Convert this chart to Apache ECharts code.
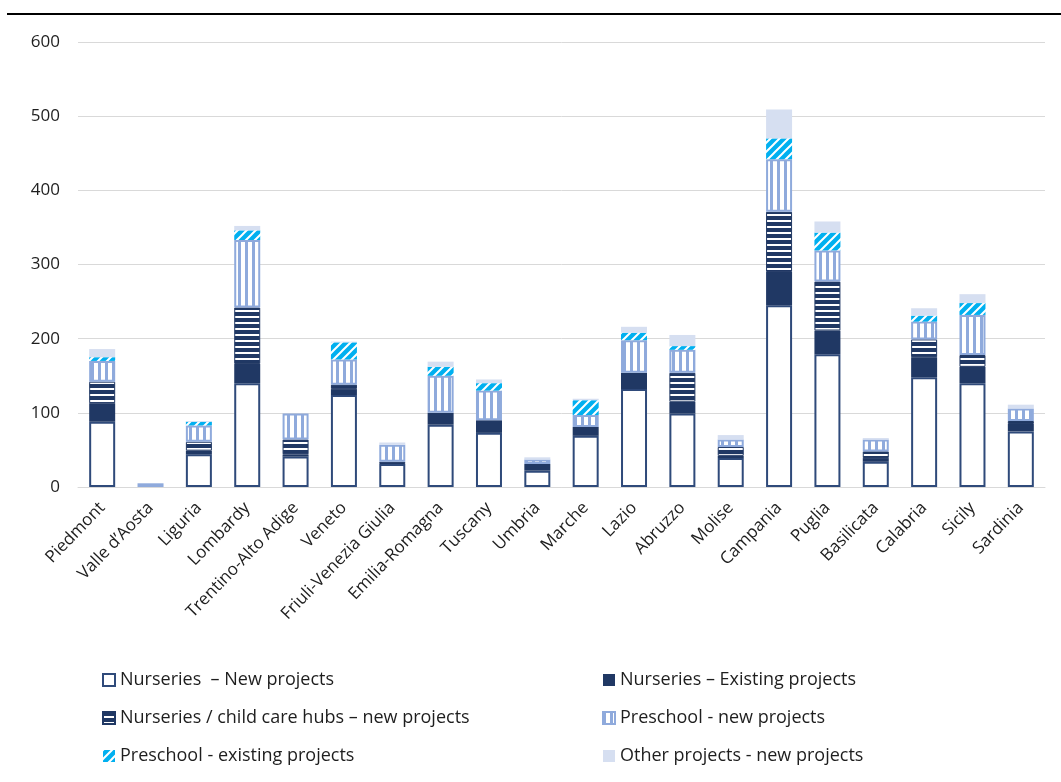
<!DOCTYPE html>
<html>
<head>
<meta charset="utf-8">
<script src="https://cdn.jsdelivr.net/npm/echarts@6/dist/echarts.min.js"></script>
<style>
  html, body { margin: 0; padding: 0; background: #fff; }
  #chartmain { width: 1061px; height: 782px; }
</style>
</head>
<body>
<div id="chartmain"></div>
<script>
// regions on the x axis
var categories = ['Piedmont', 'Valle d\u2019Aosta', 'Liguria', 'Lombardy', 'Trentino-Alto Adige', 'Veneto',
    'Friuli-Venezia Giulia', 'Emilia-Romagna', 'Tuscany', 'Umbria', 'Marche', 'Lazio', 'Abruzzo', 'Molise',
    'Campania', 'Puglia', 'Basilicata', 'Calabria', 'Sicily', 'Sardinia'];

// number of projects per region
var nurseriesNew      = [88, 0, 44, 140, 41, 124, 31, 84, 73, 22, 69, 132, 99, 39, 245, 179, 34, 148, 140, 75];
var nurseriesExisting = [25, 0, 5, 26, 3, 8, 0, 16, 17, 9, 12, 22, 16, 3, 45, 32, 5, 27, 22, 10];
var hubsNew           = [29, 0, 12, 76, 20, 6, 3, 0, 0, 0, 0, 0, 39, 12, 81, 66, 9, 24, 16, 4];
var preschoolNew      = [28, 5, 22, 91, 35, 34, 23, 50, 40, 6, 16, 44, 31, 10, 71, 42, 16, 24, 54, 17];
var preschoolExisting = [5, 0, 5, 13, 0, 23, 0, 12, 10, 0, 20, 10, 5, 0, 28, 24, 0, 8, 16, 0];
var otherNew          = [11, 0, 1, 6, 0, 1, 3, 7, 5, 3, 2, 8, 15, 6, 39, 15, 2, 10, 12, 5];

var yTicks = [0, 100, 200, 300, 400, 500, 600];

var FONT = '"Open Sans", "Liberation Sans", sans-serif';
var NAVY = '#203864';
var TEXT = '#1e1e1e';

// small canvas patterns for the hatched fills
function makePattern(w, h, draw) {
    var c = document.createElement('canvas');
    c.width = w;
    c.height = h;
    draw(c.getContext('2d'), w, h);
    return { image: c, repeat: 'repeat' };
}

var hStripes = makePattern(6, 6, function (ctx, w, h) {
    ctx.fillStyle = NAVY;
    ctx.fillRect(0, 0, w, h);
    ctx.fillStyle = '#ffffff';
    ctx.fillRect(0, 4, w, 2);
});

var vStripes = makePattern(7, 7, function (ctx, w, h) {
    ctx.fillStyle = '#ffffff';
    ctx.fillRect(0, 0, w, h);
    ctx.fillStyle = '#8faadc';
    ctx.fillRect(0, 0, 3, h);
});

var diagStripes = makePattern(9, 9, function (ctx, w, h) {
    ctx.fillStyle = '#00b0f0';
    ctx.fillRect(0, 0, w, h);
    ctx.strokeStyle = '#ffffff';
    ctx.lineWidth = 2;
    ctx.beginPath();
    ctx.moveTo(-1, h + 1); ctx.lineTo(w + 1, -1);
    ctx.moveTo(-1, 1); ctx.lineTo(1, -1);
    ctx.moveTo(w - 1, h + 1); ctx.lineTo(w + 1, h - 1);
    ctx.stroke();
});

// zero values get no border so they leave no line behind
function toItems(arr) {
    return arr.map(function (v) {
        return v === 0 ? { value: 0, itemStyle: { borderWidth: 0, opacity: 0 } } : v;
    });
}

function barSeries(name, data, itemStyle) {
    return {
        name: name,
        type: 'bar',
        stack: 'total',
        barWidth: 26,
        data: toItems(data),
        itemStyle: itemStyle,
        emphasis: { disabled: true }
    };
}

var legendText = { fontFamily: FONT, fontSize: 18, color: TEXT };

var option = {
    animation: false,
    backgroundColor: '#ffffff',
    grid: { left: 78, right: 16, top: 42, bottom: 295 },
    legend: [{
        orient: 'vertical',
        left: 97,
        top: 666,
        itemWidth: 12,
        itemHeight: 12,
        itemGap: 20,
        icon: 'rect',
        textStyle: legendText,
        data: ['Nurseries  \u2013 New projects', 'Nurseries / child care hubs \u2013 new projects', 'Preschool - existing projects']
    }, {
        orient: 'vertical',
        left: 597,
        top: 666,
        itemWidth: 12,
        itemHeight: 12,
        itemGap: 20,
        icon: 'rect',
        textStyle: legendText,
        data: ['Nurseries \u2013 Existing projects', 'Preschool - new projects', 'Other projects - new projects']
    }],
    xAxis: {
        type: 'category',
        data: categories,
        axisLine: { lineStyle: { color: '#d9d9d9', width: 1 } },
        axisTick: { show: false },
        axisLabel: {
            rotate: 46,
            interval: 0,
            margin: 18,
            fontFamily: FONT,
            fontSize: 17,
            color: TEXT
        }
    },
    yAxis: {
        type: 'value',
        min: yTicks[0],
        max: yTicks[yTicks.length - 1],
        interval: 100,
        axisLine: { show: false },
        axisTick: { show: false },
        splitLine: { lineStyle: { color: '#d9d9d9', width: 1 } },
        axisLabel: { fontFamily: FONT, fontSize: 17, color: TEXT, margin: 18 }
    },
    graphic: [{
        type: 'rect',
        shape: { x: 7, y: 13, width: 1061, height: 2 },
        style: { fill: '#000000' }
    }],
    series: [
        barSeries('Nurseries  \u2013 New projects', nurseriesNew, { color: '#ffffff', borderColor: '#2f4a7a', borderWidth: 2 }),
        barSeries('Nurseries \u2013 Existing projects', nurseriesExisting, { color: NAVY }),
        barSeries('Nurseries / child care hubs \u2013 new projects', hubsNew, { color: hStripes, borderColor: NAVY, borderWidth: 1 }),
        barSeries('Preschool - new projects', preschoolNew, { color: vStripes, borderColor: '#8faadc', borderWidth: 2 }),
        barSeries('Preschool - existing projects', preschoolExisting, { color: diagStripes }),
        barSeries('Other projects - new projects', otherNew, { color: '#d6dff1' })
    ]
};

var myChart = echarts.init(document.getElementById('chartmain'));
myChart.setOption(option);
</script>
</body>
</html>
